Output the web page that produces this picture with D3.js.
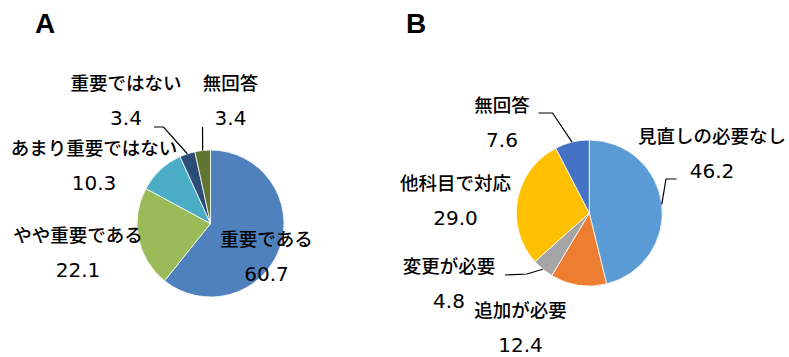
<!DOCTYPE html>
<meta charset="utf-8">
<style>
  body { margin: 0; background: #fff; }
  svg { font-family: "DejaVu Sans", "Noto Sans CJK JP", sans-serif; }
  .title { font-family: "Liberation Sans", Arial, sans-serif; font-weight: bold; font-size: 28px; }
  .name { font-size: 18.5px; font-weight: 500; }
  .val { font-size: 20px; }
</style>
<svg width="789" height="357"></svg>
<script src="https://cdn.jsdelivr.net/npm/d3@7"></script>
<script>

// chart A
var labelsA = ["重要である", "やや重要である", "あまり重要ではない", "重要ではない", "無回答"],
    valuesA = [60.7, 22.1, 10.3, 3.4, 3.4],
    colorsA = ["#4f81bd", "#9bbb59", "#4bacc6", "#2c4d75", "#5f7530"];

// chart B
var labelsB = ["見直しの必要なし", "追加が必要", "変更が必要", "他科目で対応", "無回答"],
    valuesB = [46.2, 12.4, 4.8, 29.0, 7.6],
    colorsB = ["#5b9bd5", "#ed7d31", "#a5a5a5", "#ffc000", "#4472c4"];

// label layout: [centre x, baseline of name], value sits one line below
var layoutA = [[266.5, 246], [78, 242], [94, 155], [126, 90], [230.5, 90]],
    leadA = [null, null, null, [[154, 127], [163.5, 127]], [[202.5, 127]]];
var layoutB = [[712, 143], [520.5, 317], [449, 273], [455.5, 190], [502, 112]],
    leadB = [[[676.5, 179], [666, 179]], null, [[505, 275], [527, 274]], null, [[538.5, 113], [552.5, 113]]];

var svg = d3.select("svg");
var fmt = d3.format(".1f");

function drawPie(cx, cy, r, title, tx, labels, values, colors, layout, lead) {
  var g = svg.append("g");
  svg.append("text").attr("class", "title").attr("x", tx).attr("y", 33).text(title);

  var pie = d3.pie().sort(null).value(function(d) { return d; });
  var arcs = pie(values);
  var arc = d3.arc().innerRadius(0).outerRadius(r);

  g.attr("transform", "translate(" + cx + "," + cy + ")")
    .selectAll("path")
    .data(arcs)
    .enter().append("path")
      .attr("d", arc)
      .attr("fill", function(d, i) { return colors[i]; })
      .attr("stroke", "#fff")
      .attr("stroke-width", 0.8);

  // leader lines go to the outer edge at the slice's mid angle
  arcs.forEach(function(d, i) {
    if (!lead[i]) return;
    var a = (d.startAngle + d.endAngle) / 2;
    var pts = lead[i].concat([[cx + r * Math.sin(a), cy - r * Math.cos(a)]]);
    svg.append("path")
      .attr("d", d3.line()(pts))
      .attr("fill", "none")
      .attr("stroke", "#000")
      .attr("stroke-width", 1.2);
  });

  var lab = svg.append("g").attr("text-anchor", "middle").attr("fill", "#000");
  labels.forEach(function(name, i) {
    lab.append("text").attr("class", "name")
      .attr("x", layout[i][0]).attr("y", layout[i][1]).text(name);
    lab.append("text").attr("class", "val")
      .attr("x", layout[i][0]).attr("y", layout[i][1] + 35).text(fmt(values[i]));
  });
}

drawPie(210.5, 223.5, 73.5, "A", 35, labelsA, valuesA, colorsA, layoutA, leadA);
drawPie(589.3, 213, 73, "B", 406, labelsB, valuesB, colorsB, layoutB, leadB);

</script>
